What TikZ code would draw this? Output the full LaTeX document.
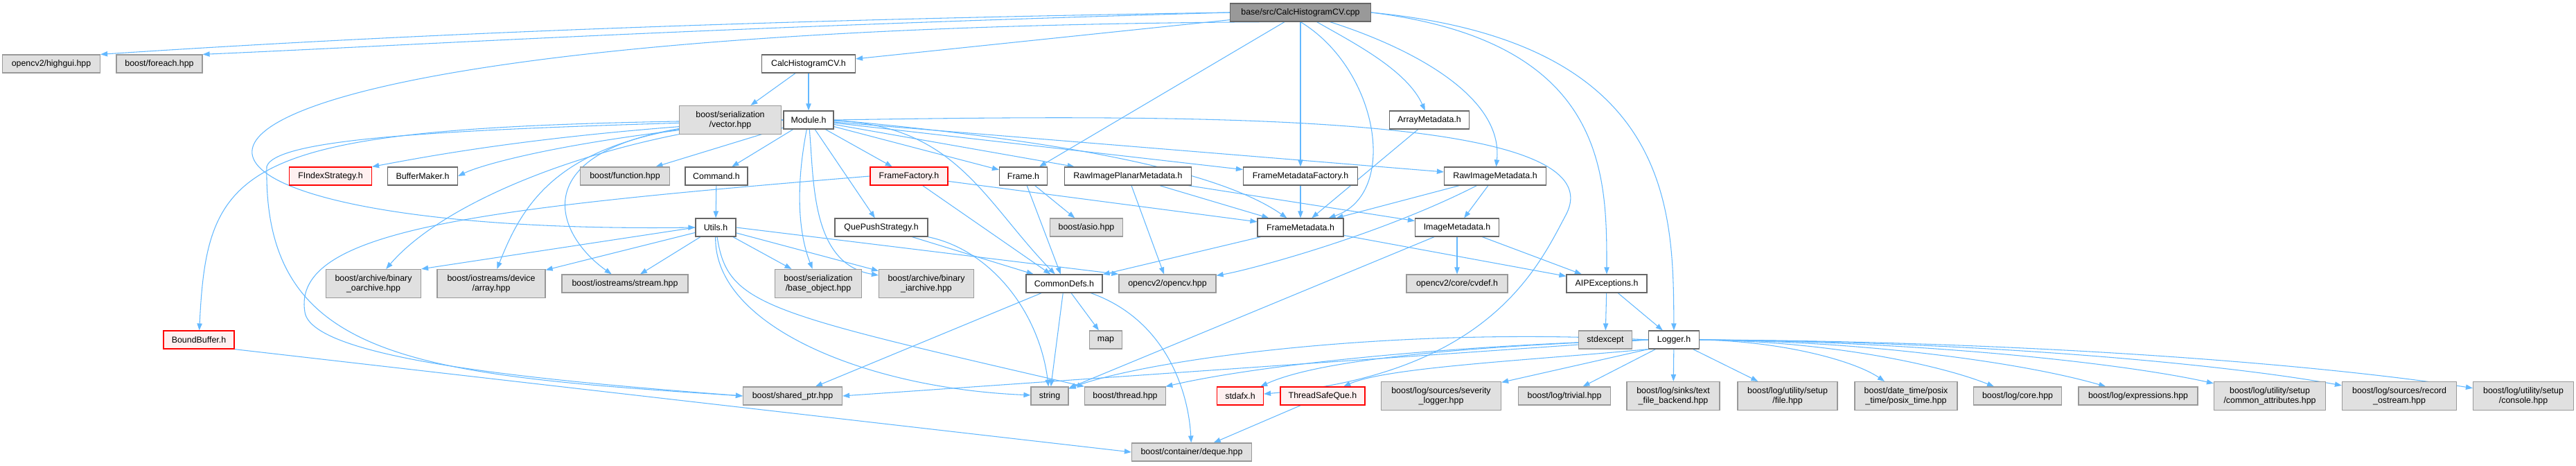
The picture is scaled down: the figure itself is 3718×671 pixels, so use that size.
\documentclass[tikz,border=0pt]{standalone}
\usepackage{fontspec}
\setmainfont{Liberation Sans}
\usetikzlibrary{arrows.meta}
\definecolor{edgeblue}{HTML}{63B8FF}
\definecolor{sysfill}{HTML}{E0E0E0}
\definecolor{sysline}{HTML}{999999}
\definecolor{hdrline}{HTML}{666666}
\definecolor{badfill}{HTML}{FFF0F0}
\pgfdeclarelayer{bg}
\pgfsetlayers{bg,main}
\begin{document}
\begin{tikzpicture}[x=0.75pt,y=-0.75pt,
  every node/.style={font=\fontsize{9.3}{10.8}\selectfont,align=center,inner xsep=2pt,inner ysep=1pt,minimum height=19.5pt,line width=0.9pt},
  wd/.style={minimum width=#1*0.75pt},
  hdr/.style={draw=hdrline,fill=white},
  sys/.style={draw=sysline,fill=sysfill},
  bad/.style={draw=red,fill=badfill},
  root/.style={draw=hdrline,fill=sysline},
  tall/.style={minimum height=30.75pt},
  dep/.style={draw=edgeblue,line width=0.8pt,-{Triangle[length=7.5pt,width=5.5pt]}}]
\useasboundingbox (0,0) rectangle (3718,671);
% top rows
\node[root,wd=203] (cpp) at (1877,18) {base/src/CalcHistogramCV.cpp};
\node[sys,wd=141] (highgui) at (74,92) {opencv2/highgui.hpp};
\node[sys,wd=124] (foreach) at (230,92) {boost/foreach.hpp};
\node[hdr,wd=135] (calch) at (1167,92) {CalcHistogramCV.h};
\node[sys,tall,wd=147] (serialvec) at (1054,173) {boost/serialization\\/vector.hpp};
\node[hdr,wd=72] (module) at (1167,173) {Module.h};
\node[hdr,wd=115] (arraymeta) at (2063,173) {ArrayMetadata.h};
\node[bad,wd=119] (findex) at (477,254) {FIndexStrategy.h};
\node[hdr,wd=101] (bufmaker) at (610,254) {BufferMaker.h};
\node[sys,wd=129] (function) at (902,254) {boost/function.hpp};
\node[hdr,wd=90] (command) at (1034,254) {Command.h};
\node[bad,wd=112] (framefac) at (1312,254) {FrameFactory.h};
\node[hdr,wd=69] (frame) at (1477,254) {Frame.h};
\node[hdr,wd=183] (rawplanar) at (1628,254) {RawImagePlanarMetadata.h};
\node[hdr,wd=165] (fmfactory) at (1877,254) {FrameMetadataFactory.h};
\node[hdr,wd=147] (rawmeta) at (2158,254) {RawImageMetadata.h};
\node[hdr,wd=58] (utils) at (1033,328) {Utils.h};
\node[hdr,wd=134] (quepush) at (1272,328) {QuePushStrategy.h};
\node[sys,wd=105] (asio) at (1568,328) {boost/asio.hpp};
\node[hdr,wd=124] (framemeta) at (1877,328) {FrameMetadata.h};
\node[hdr,wd=121] (imgmeta) at (2103,328) {ImageMetadata.h};
% middle rows
\node[sys,tall,wd=137] (oarchive) at (539,409) {boost/archive/binary\\\_oarchive.hpp};
\node[sys,tall,wd=156] (devarray) at (709,409) {boost/iostreams/device\\/array.hpp};
\node[sys,wd=182] (stream) at (902,409) {boost/iostreams/stream.hpp};
\node[sys,tall,wd=125] (baseobj) at (1181,409) {boost/serialization\\/base\_object.hpp};
\node[sys,tall,wd=137] (iarchive) at (1337,409) {boost/archive/binary\\\_iarchive.hpp};
\node[hdr,wd=110] (commondefs) at (1536,409) {CommonDefs.h};
\node[sys,wd=140] (opencv) at (1685,409) {opencv2/opencv.hpp};
\node[sys,wd=146] (cvdef) at (2103,409) {opencv2/core/cvdef.h};
\node[hdr,wd=116] (aipex) at (2319,409) {AIPExceptions.h};
\node[bad,wd=102] (boundbuf) at (287,490) {BoundBuffer.h};
\node[sys,wd=47] (map) at (1596,490) {map};
\node[sys,wd=77] (stdexcept) at (2317,490) {stdexcept};
\node[hdr,wd=73] (logger) at (2416,490) {Logger.h};
% bottom rows
\node[sys,wd=143] (sharedptr) at (1144,571) {boost/shared\_ptr.hpp};
\node[sys,wd=54] (string) at (1515,571) {string};
\node[sys,wd=117] (thread) at (1624,571) {boost/thread.hpp};
\node[bad,wd=67] (stdafx) at (1790,571) {stdafx.h};
\node[bad,wd=122] (tsq) at (1909,571) {ThreadSafeQue.h};
\node[sys,tall,wd=173] (severity) at (2080,571) {boost/log/sources/severity\\\_logger.hpp};
\node[sys,wd=133] (trivial) at (2258,571) {boost/log/trivial.hpp};
\node[sys,tall,wd=134] (textfile) at (2415,571) {boost/log/sinks/text\\\_file\_backend.hpp};
\node[sys,tall,wd=144] (setupfile) at (2580,571) {boost/log/utility/setup\\/file.hpp};
\node[sys,tall,wd=148] (posix) at (2751,571) {boost/date\_time/posix\\\_time/posix\_time.hpp};
\node[sys,wd=127] (core) at (2912,571) {boost/log/core.hpp};
\node[sys,wd=172] (expr) at (3086,571) {boost/log/expressions.hpp};
\node[sys,tall,wd=161] (common) at (3276,571) {boost/log/utility/setup\\/common\_attributes.hpp};
\node[sys,tall,wd=165] (record) at (3463,571) {boost/log/sources/record\\\_ostream.hpp};
\node[sys,tall,wd=145] (console) at (3642,571) {boost/log/utility/setup\\/console.hpp};
\node[sys,wd=173] (deque) at (1720,652) {boost/container/deque.hpp};
\begin{pgfonlayer}{bg}
% straight includes
\foreach \a/\b in {cpp/calch, cpp/frame, cpp/fmfactory, calch/serialvec, calch/module,
  module/function, module/command, module/framefac, module/frame, module/rawplanar,
  module/fmfactory, module/rawmeta, module/quepush, command/utils, arraymeta/framemeta,
  utils.west/oarchive.north east, utils/devarray, utils/stream, utils/baseobj, utils/iarchive,
  utils.east/opencv.north west, framefac/framemeta, framefac/commondefs, frame/asio,
  frame/commondefs, rawplanar/framemeta, rawplanar/imgmeta, rawplanar/opencv,
  fmfactory/framemeta, rawmeta/framemeta, rawmeta/imgmeta, quepush/commondefs,
  framemeta/commondefs, framemeta/aipex, imgmeta/cvdef, imgmeta/aipex, imgmeta/string,
  commondefs/sharedptr, commondefs/string, commondefs/map, aipex/stdexcept, aipex/logger,
  tsq/deque, boundbuf.south east/deque.west, logger.south west/severity, logger/trivial,
  logger/textfile, logger/setupfile, logger.west/sharedptr.east}
  \draw[dep] (\a) -- (\b);
% curved includes from the source file
\draw[dep] (cpp.west) .. controls (1000,30) and (500,55) .. (highgui.north east);
\draw[dep] (cpp.west) .. controls (1000,40) and (600,65) .. (foreach.north east);
\draw[dep] (cpp.200) .. controls (0,40) and (80,340) .. (utils.west);
\draw[dep] (cpp.south) .. controls (1990,100) and (2020,280) .. (framemeta);
\draw[dep] (cpp) .. controls (1950,60) and (2030,100) .. (arraymeta);
\draw[dep] (cpp) .. controls (2040,70) and (2170,140) .. (rawmeta);
\draw[dep] (cpp.east) .. controls (2319,60) and (2319,250) .. (aipex);
\draw[dep] (cpp.east) .. controls (2415,60) and (2415,300) .. (logger);
% Module.h fan
\draw[dep] (module.west) .. controls (800,190) and (620,225) .. (findex.north east);
\draw[dep] (module.west) .. controls (850,195) and (700,235) .. (bufmaker.east);
\draw[dep] (module.west) .. controls (350,180) and (300,220) .. (boundbuf);
\draw[dep] (module.west) .. controls (700,185) and (400,195) .. (385,240)
  .. controls (380,520) and (600,540) .. (sharedptr.west);
\draw[dep] (module.west) .. controls (900,190) and (650,280) .. (oarchive);
\draw[dep] (module.west) .. controls (820,180) and (760,280) .. (devarray);
\draw[dep] (module.west) .. controls (740,180) and (790,330) .. (stream);
\draw[dep] (module) .. controls (1150,260) and (1150,330) .. (baseobj);
\draw[dep] (module) .. controls (1175,260) and (1170,380) .. (iarchive);
\draw[dep] (module) .. controls (1380,180) and (1420,290) .. (commondefs);
\draw[dep] (module.east) .. controls (1500,200) and (1750,240) .. (framemeta);
\draw[dep] (module.east) .. controls (1700,165) and (2340,160) .. (2260,310)
  .. controls (2220,385) and (2150,540) .. (stdafx);
% lower curves
\draw[dep] (framefac.west) .. controls (700,300) and (420,330) .. (440,450)
  .. controls (450,520) and (800,550) .. (sharedptr.west);
\draw[dep] (quepush) .. controls (1430,360) and (1500,450) .. (string);
\draw[dep] (utils) .. controls (1030,470) and (1250,560) .. (string);
\draw[dep] (utils) .. controls (1050,440) and (1100,450) .. (thread);
\draw[dep] (rawmeta) .. controls (1990,340) and (1800,390) .. (opencv);
\draw[dep] (commondefs) .. controls (1680,460) and (1715,560) .. (deque);
% Logger.h fan
\draw[dep] (logger.west) .. controls (2000,470) and (1650,520) .. (string);
\draw[dep] (logger.west) .. controls (2050,500) and (1800,530) .. (thread);
\draw[dep] (logger.west) .. controls (2100,500) and (1900,520) .. (stdafx);
\draw[dep] (logger.south west) .. controls (2200,520) and (2000,530) .. (tsq);
\draw[dep] (logger.east) .. controls (2572,492) and (2676,520) .. (posix);
\draw[dep] (logger.east) .. controls (2636,492) and (2797,525) .. (core);
\draw[dep] (logger.east) .. controls (2706,492) and (2928,525) .. (expr);
\draw[dep] (logger.east) .. controls (2782,492) and (3070,525) .. (common);
\draw[dep] (logger.east) .. controls (2856,492) and (3210,525) .. (record);
\draw[dep] (logger.east) .. controls (2928,492) and (3344,525) .. (console);
\end{pgfonlayer}
\end{tikzpicture}
\end{document}
